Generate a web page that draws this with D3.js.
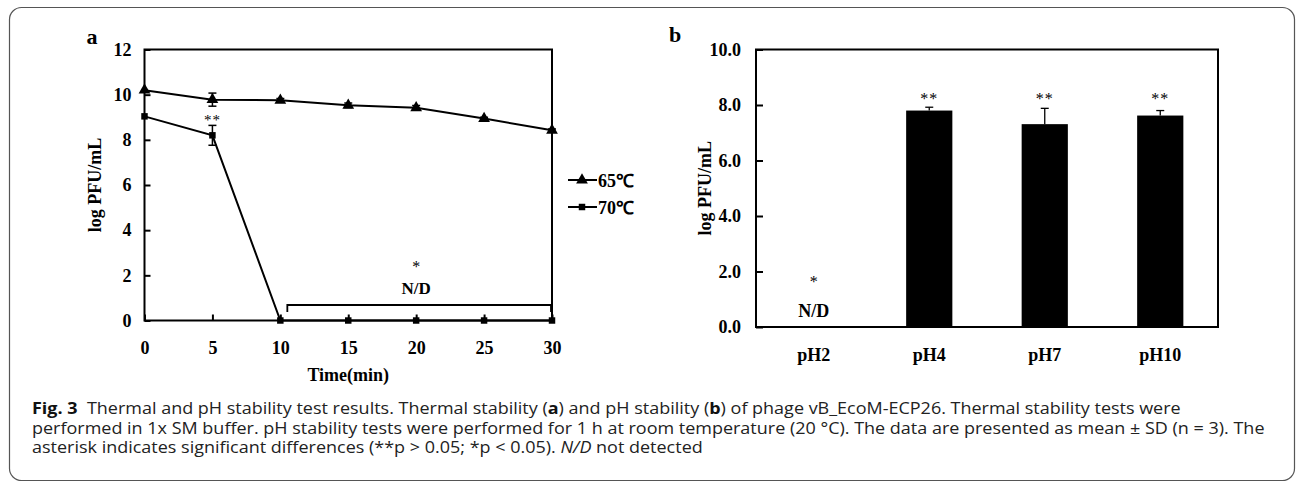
<!DOCTYPE html>
<html><head><meta charset="utf-8">
<script src="https://cdn.jsdelivr.net/npm/d3@7"></script>
<style>
html,body{margin:0;padding:0;background:#fff;}
svg{display:block;}
</style></head>
<body>
<svg id="c" width="1296" height="482"></svg>
<script>
// ---- data ----
const times = [0, 5, 10, 15, 20, 25, 30];
const temp65 = [10.2, 9.78, 9.75, 9.53, 9.42, 8.94, 8.42];
const temp65Err = [0, 0.29, 0.08, 0.1, 0.1, 0.06, 0.06];
const temp70 = [9.04, 8.2, 0, 0, 0, 0, 0];
const temp70Err = [0, 0.44, 0, 0, 0, 0, 0];
const yTicksA = [0, 2, 4, 6, 8, 10, 12];
const xTicksA = [0, 5, 10, 15, 20, 25, 30];
const seriesNames = ["65℃", "70℃"];

const phCats = ["pH2", "pH4", "pH7", "pH10"];
const phVals = [0, 7.8, 7.31, 7.62];
const phErr = [0, 0.12, 0.57, 0.18];
const phSig = ["*", "**", "**", "**"];
const yTicksB = [0, 2, 4, 6, 8, 10];

const captionLines = [
  [["Fig. 3", "b"], ["  Thermal and pH stability test results. Thermal stability (", "n"], ["a", "b"], [") and pH stability (", "n"], ["b", "b"], [") of phage vB_EcoM-ECP26. Thermal stability tests were", "n"]],
  [["performed in 1x SM buffer. pH stability tests were performed for 1 h at room temperature (20 °C). The data are presented as mean ± SD (n = 3). The", "n"]],
  [["asterisk indicates significant differences (**p > 0.05; *p < 0.05). ", "n"], ["N/D", "i"], [" not detected", "n"]]
];

// ---- drawing ----
const svg = d3.select("#c");
const serif = "'Liberation Serif','Times New Roman',serif";

svg.append("rect").attr("x", 9.5).attr("y", 7.5).attr("width", 1285).attr("height", 473)
  .attr("rx", 12).attr("fill", "none").attr("stroke", "#555").attr("stroke-width", 1.2);

// Panel a
const xA = d3.scaleLinear().domain([0, 30]).range([144.5, 552]);
const yA = d3.scaleLinear().domain([0, 12]).range([320.5, 49.5]);
const gA = svg.append("g");

const axA = gA.append("g").attr("transform", `translate(${xA(0)},0)`)
  .call(d3.axisLeft(yA).tickValues(yTicksA).tickSize(-6).tickPadding(13).tickFormat(d3.format("d")));
const axAx = gA.append("g").attr("transform", `translate(0,${yA(0)})`)
  .call(d3.axisBottom(xA).tickValues(xTicksA).tickSize(-6).tickPadding(21).tickFormat(d3.format("d")));
[axA, axAx].forEach(a => {
  a.select(".domain").remove();
  a.selectAll("line").attr("stroke", "#000").attr("stroke-width", 2);
  a.selectAll("text").attr("font-family", serif).attr("font-weight", "bold").attr("font-size", 18).attr("fill", "#000");
});
gA.append("rect").attr("x", xA(0)).attr("y", yA(12)).attr("width", xA(30) - xA(0)).attr("height", yA(0) - yA(12))
  .attr("fill", "none").attr("stroke", "#000").attr("stroke-width", 2);

const tri = d3.symbol().type(d3.symbolTriangle).size(60);
const sq = d3.symbol().type(d3.symbolSquare).size(42);

function drawSeries(vals, errs, sym) {
  const pts = times.map((t, i) => ({ t, v: vals[i], e: errs[i] }));
  gA.append("path").datum(pts)
    .attr("d", d3.line().x(d => xA(d.t)).y(d => yA(d.v)))
    .attr("fill", "none").attr("stroke", "#000").attr("stroke-width", 2);
  pts.filter(d => d.e > 0).forEach(d => {
    gA.append("line").attr("x1", xA(d.t)).attr("x2", xA(d.t)).attr("y1", yA(d.v - d.e)).attr("y2", yA(d.v + d.e)).attr("stroke", "#000").attr("stroke-width", 1.5);
    [d.v - d.e, d.v + d.e].forEach(v => gA.append("line").attr("x1", xA(d.t) - 4).attr("x2", xA(d.t) + 4).attr("y1", yA(v)).attr("y2", yA(v)).attr("stroke", "#000").attr("stroke-width", 1.5));
  });
  gA.selectAll(null).data(pts).enter().append("path")
    .attr("d", sym).attr("transform", d => `translate(${xA(d.t)},${yA(d.v)})`).attr("fill", "#000");
}
drawSeries(temp65, temp65Err, tri);
drawSeries(temp70, temp70Err, sq);

// annotations panel a
gA.append("text").attr("x", xA(5)).attr("y", yA(temp70[1] + temp70Err[1]) + 1).text("**")
  .attr("text-anchor", "middle").attr("font-family", serif).attr("font-size", 15).attr("letter-spacing", 1).attr("dy", "-0.1em").attr("fill", "#000");
const brY = 305;
gA.append("path").attr("d", `M${xA(10) + 7},${brY + 7}V${brY}H${xA(30) - 1}V${brY + 7}`)
  .attr("fill", "none").attr("stroke", "#000").attr("stroke-width", 1.8);
gA.append("text").attr("x", xA(20)).attr("y", 272).text("*").attr("text-anchor", "middle")
  .attr("font-family", serif).attr("font-size", 16).attr("fill", "#000");
gA.append("text").attr("x", xA(20)).attr("y", 294).text("N/D").attr("text-anchor", "middle")
  .attr("font-family", serif).attr("font-weight", "bold").attr("font-size", 17);
gA.append("text").attr("x", 92).attr("y", 44).text("a").attr("text-anchor", "middle")
  .attr("font-family", serif).attr("font-weight", "bold").attr("font-size", 22);
gA.append("text").attr("transform", `translate(101,${(yA(0) + yA(12)) / 2}) rotate(-90)`).text("log PFU/mL")
  .attr("text-anchor", "middle").attr("font-family", serif).attr("font-weight", "bold").attr("font-size", 18);
gA.append("text").attr("x", xA(15)).attr("y", 381).text("Time(min)").attr("text-anchor", "middle")
  .attr("font-family", serif).attr("font-weight", "bold").attr("font-size", 18);

// legend
const legY = [180, 207];
[tri, sq].forEach((sym, i) => {
  gA.append("line").attr("x1", 568).attr("x2", 597).attr("y1", legY[i]).attr("y2", legY[i]).attr("stroke", "#000").attr("stroke-width", 2);
  gA.append("path").attr("d", sym).attr("transform", `translate(582,${legY[i]})`).attr("fill", "#000");
  gA.append("text").attr("x", 598).attr("y", legY[i] + 6.5).text(seriesNames[i])
    .attr("font-family", serif).attr("font-weight", "bold").attr("font-size", 18);
});

// Panel b
const xB = d3.scaleBand().domain(phCats).range([756, 1218]);
const yB = d3.scaleLinear().domain([0, 10]).range([327, 49.5]);
const gB = svg.append("g");
const axB = gB.append("g").attr("transform", `translate(756,0)`)
  .call(d3.axisLeft(yB).tickValues(yTicksB).tickSize(-7).tickPadding(15).tickFormat(d3.format(".1f")));
const axBx = gB.append("g").attr("transform", `translate(0,${yB(0)})`)
  .call(d3.axisBottom(xB).tickSize(0).tickPadding(21));
[axB, axBx].forEach(a => {
  a.select(".domain").remove();
  a.selectAll("line").attr("stroke", "#000").attr("stroke-width", 2);
  a.selectAll("text").attr("font-family", serif).attr("font-weight", "bold").attr("font-size", 18).attr("fill", "#000");
});
const bw = xB.bandwidth() * 0.4;
phCats.forEach((c, i) => {
  const cx = xB(c) + xB.bandwidth() / 2;
  if (phVals[i] > 0) {
    gB.append("rect").attr("x", cx - bw / 2).attr("y", yB(phVals[i])).attr("width", bw).attr("height", yB(0) - yB(phVals[i])).attr("fill", "#000");
    gB.append("line").attr("x1", cx).attr("x2", cx).attr("y1", yB(phVals[i])).attr("y2", yB(phVals[i] + phErr[i])).attr("stroke", "#000").attr("stroke-width", 1.3);
    gB.append("line").attr("x1", cx - 4).attr("x2", cx + 4).attr("y1", yB(phVals[i] + phErr[i])).attr("y2", yB(phVals[i] + phErr[i])).attr("stroke", "#000").attr("stroke-width", 1.3);
    gB.append("text").attr("x", cx).attr("y", 104).text(phSig[i]).attr("text-anchor", "middle")
      .attr("font-family", serif).attr("font-size", 16).attr("letter-spacing", 1).attr("fill", "#000");
  } else {
    gB.append("text").attr("x", cx).attr("y", 287).text(phSig[i]).attr("text-anchor", "middle")
      .attr("font-family", serif).attr("font-size", 16).attr("fill", "#000");
    gB.append("text").attr("x", cx).attr("y", 317).text("N/D").attr("text-anchor", "middle")
      .attr("font-family", serif).attr("font-weight", "bold").attr("font-size", 18);
  }
});
gB.append("rect").attr("x", 756).attr("y", yB(10)).attr("width", 1218 - 756).attr("height", yB(0) - yB(10))
  .attr("fill", "none").attr("stroke", "#000").attr("stroke-width", 2);
gB.append("text").attr("x", 675).attr("y", 42).text("b").attr("text-anchor", "middle")
  .attr("font-family", serif).attr("font-weight", "bold").attr("font-size", 22);
gB.append("text").attr("transform", `translate(711,${(yB(0) + yB(10)) / 2}) rotate(-90)`).text("log PFU/mL")
  .attr("text-anchor", "middle").attr("font-family", serif).attr("font-weight", "bold").attr("font-size", 18);

// caption
const capY = [414, 433.5, 453];
const capG = svg.append("g");
const nodes = captionLines.map((parts, li) => {
  const t = capG.append("text").attr("x", 0).attr("y", 0)
    .attr("font-family", "'Open Sans','Noto Sans',sans-serif").attr("font-size", 16).attr("fill", "#222");
  parts.forEach(([s, st]) => {
    const ts = t.append("tspan").text(s).attr("xml:space", "preserve").style("white-space", "pre");
    if (st === "b") ts.attr("font-weight", "bold").attr("fill", "#111");
    if (st === "i") ts.attr("font-style", "italic");
  });
  return t;
});
const w2 = nodes[1].node().getComputedTextLength();
const sx = (1265 - 32) / w2;
nodes.forEach((t, i) => t.attr("transform", `translate(32,${capY[i]}) scale(${sx},1)`));
</script>
</body></html>
